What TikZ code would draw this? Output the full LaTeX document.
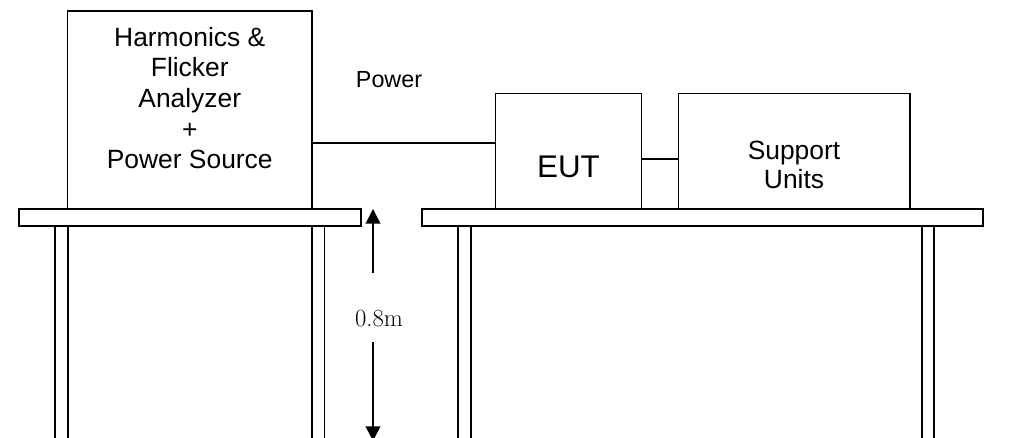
\documentclass[tikz,border=0pt]{standalone}
\usepackage{fontspec}
\setmainfont{Liberation Sans}
\newfontfamily\dimfont{Latin Modern Roman}
\usetikzlibrary{arrows.meta}

\tikzset{every picture/.style={line width=1pt}}
\tikzset{
  unitbox/.style={draw, rectangle, inner sep=0pt},
  boxtext/.style={align=center, inner sep=0pt, font=\fontsize{19.8}{23}\selectfont},
  cable/.style={line width=1.5pt},
  dimline/.style={line width=1.1pt, -{Triangle[length=11pt,width=11pt]}}
}

\begin{document}
\begin{tikzpicture}[x=0.75pt,y=0.75pt,yscale=-1,xscale=1]
	\useasboundingbox (0,0) rectangle (1019,438);

	%Shape: Rectangle (analyzer)
	\node [unitbox, minimum width=183.4pt, minimum height=148.5pt] (analyzer) at (189.75,110) {};
	%Shape: Rectangle (EUT)
	\node [unitbox, minimum width=109.8pt, minimum height=86.6pt] (eut) at (568.5,151) {};
	%Shape: Rectangle (support units)
	\node [unitbox, minimum width=173.6pt, minimum height=86.6pt] (support) at (794.25,151) {};

	%Shape: Table left
	\draw  (19,209) rectangle (361,226) ;
	\draw  (55,226) -- (55,442) (68,226) -- (68,442) ;
	\draw  (312,226) -- (312,442) (324.5,226) -- (324.5,442) ;
	%Shape: Table right
	\draw  (422,209) rectangle (983,226) ;
	\draw  (458,226) -- (458,442) (471,226) -- (471,442) ;
	\draw  (922,226) -- (922,442) (934,226) -- (934,442) ;

	%Straight Lines (cables)
	\coordinate (pw) at (400,143.5);
	\coordinate (lk) at (660,159);
	\draw [cable]    (analyzer.east |- pw) -- (eut.west |- pw) ;
	\draw [cable]    (eut.east |- lk) -- (support.west |- lk) ;

	%Straight Lines (height 0.8m)
	\coordinate (dimtop) at (373,209);
	\coordinate (dima) at (373,273);
	\coordinate (dimb) at (373,342);
	\coordinate (dimbot) at (373,441);
	\draw [dimline]    (dima) -- (dimtop) ;
	\draw [dimline]    (dimb) -- (dimbot) ;

	% Text Node
	\draw (189.75,98) node [boxtext] (analyzertxt) {Harmonics \&\\Flicker\\Analyzer\\+\\Power Source};
	% Text Node
	\draw (389,79.5) node [inner sep=0pt, font=\fontsize{17.5}{20}\selectfont] (powertxt) {Power};
	% Text Node
	\draw (568.5,166.5) node [inner sep=0pt, font=\fontsize{23.5}{28}\selectfont] (euttxt) {EUT};
	% Text Node
	\draw (794,165) node [boxtext, font=\fontsize{19.8}{22}\selectfont] (supporttxt) {Support\\Units};
	% Text Node
	\draw (379,319) node [inner sep=0pt, font=\dimfont\fontsize{18.5}{22}\selectfont] (dimtxt) {0.8m};

\end{tikzpicture}
\end{document}
